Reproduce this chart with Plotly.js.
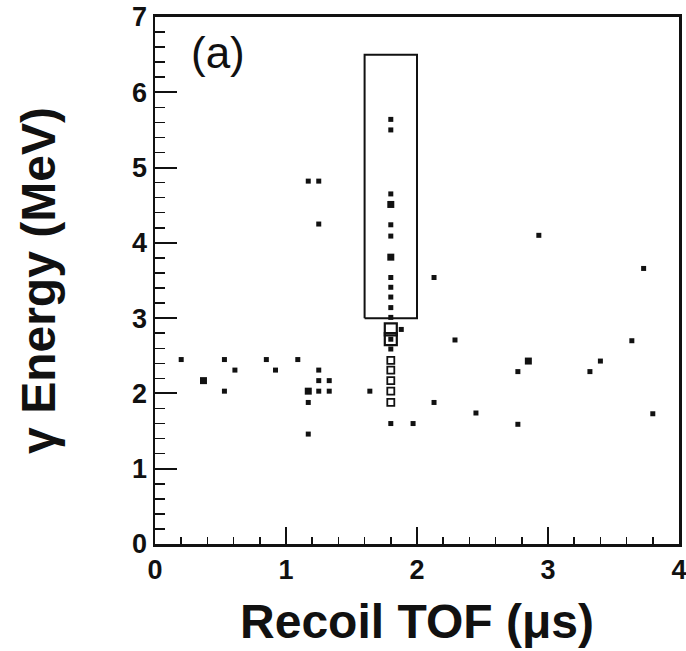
<!DOCTYPE html>
<html>
<head>
<meta charset="utf-8">
<script src="https://cdn.plot.ly/plotly-3.0.1.min.js"></script>
<style>html,body{margin:0;padding:0;background:#fff;}</style>
</head>
<body>
<div id="chart" style="width:686px;height:651px;"></div>
<script>
// Scattered events (filled dots)
const dotX = [0.20, 0.53, 0.61, 0.53, 0.85, 0.92, 1.09, 1.25, 1.25, 1.33, 1.25, 1.33, 1.17, 1.17,
              1.17, 1.25, 1.25, 1.64, 1.80, 1.97, 1.88, 2.13, 2.13, 2.29, 2.45, 2.77, 2.77,
              2.93, 3.32, 3.40, 3.64, 3.73, 3.80,
              1.80, 1.80, 1.80, 1.80, 1.80, 1.80, 1.80, 1.80, 1.80, 1.80, 1.80, 1.80];
const dotY = [2.45, 2.45, 2.31, 2.03, 2.45, 2.31, 2.45, 2.31, 2.17, 2.17, 2.03, 2.03, 1.88, 1.46,
              4.82, 4.82, 4.25, 2.03, 1.60, 1.60, 2.85, 3.54, 1.88, 2.71, 1.74, 2.29, 1.59,
              4.10, 2.29, 2.43, 2.70, 3.66, 1.73,
              5.64, 5.50, 4.65, 4.24, 4.09, 3.54, 3.41, 3.28, 3.14, 3.01, 2.59, 2.72];
// Slightly bigger filled dots
const bigDotX = [0.37, 1.17, 2.85, 1.80, 1.80];
const bigDotY = [2.17, 2.03, 2.43, 4.51, 3.81];
// Hollow squares in the TOF column
const openX = [1.80, 1.80, 1.80, 1.80, 1.80];
const openY = [2.44, 2.31, 2.17, 2.03, 1.88];
const bigOpenX = [1.80, 1.80];
const bigOpenY = [2.85, 2.72];
// Gate box corners
const boxX = [1.6, 2.0, 2.0, 1.6, 1.6];
const boxY = [3.0, 3.0, 6.5, 6.5, 3.0];
const xTicks = [0, 1, 2, 3, 4];
const yTicks = [0, 1, 2, 3, 4, 5, 6, 7];

const F = "Liberation Sans, Arial, sans-serif";
const traces = [
  {x: boxX, y: boxY, mode: 'lines', line: {color: '#111', width: 2}, hoverinfo: 'skip'},
  {x: dotX, y: dotY, mode: 'markers', marker: {symbol: 'square', size: 5, color: '#111'}},
  {x: bigDotX, y: bigDotY, mode: 'markers', marker: {symbol: 'square', size: 7, color: '#111'}},
  {x: openX, y: openY, mode: 'markers', marker: {symbol: 'square-open', size: 7, color: '#111', line: {width: 1.8}}},
  {x: bigOpenX, y: bigOpenY, mode: 'markers', marker: {symbol: 'square-open', size: 12, color: '#111', line: {width: 2.2}}}
];
const layout = {
  width: 686, height: 651,
  margin: {l: 155, r: 7, t: 17, b: 107},
  paper_bgcolor: '#fff', plot_bgcolor: '#fff',
  showlegend: false,
  font: {family: F, color: '#111'},
  xaxis: {
    range: [0, 4], tickvals: xTicks, ticktext: xTicks.map(String),
    ticklabeloverflow: 'allow',
    ticks: 'inside', ticklen: 17, tickwidth: 2, tickcolor: '#111',
    minor: {dtick: 0.2, ticks: 'inside', ticklen: 7, tickwidth: 1.5, tickcolor: '#111'},
    showgrid: false, zeroline: false,
    showline: true, linewidth: 3, linecolor: '#111', mirror: true,
    tickfont: {family: F, size: 27, weight: 'bold', color: '#111'},
    title: {text: 'Recoil TOF (μs)', font: {family: F, size: 48, weight: 'bold', color: '#111'}, standoff: 20}
  },
  yaxis: {
    range: [0, 7], tickvals: yTicks, ticktext: yTicks.map(String),
    ticklabeloverflow: 'allow',
    ticks: 'inside', ticklen: 22, tickwidth: 2, tickcolor: '#111',
    minor: {dtick: 0.2, ticks: 'inside', ticklen: 10, tickwidth: 1.5, tickcolor: '#111'},
    showgrid: false, zeroline: false,
    showline: true, linewidth: 2.5, linecolor: '#111', mirror: true,
    tickfont: {family: F, size: 27, weight: 'bold', color: '#111'},
    title: {text: 'γ Energy (MeV)', font: {family: F, size: 48, weight: 'bold', color: '#111'}, standoff: 62}
  },
  annotations: [
    {x: 0.48, y: 6.53, xref: 'x', yref: 'y', text: '(a)', showarrow: false,
     font: {family: F, size: 44, color: '#111'}}
  ]
};
Plotly.newPlot('chart', traces, layout, {staticPlot: true});
</script>
</body>
</html>
